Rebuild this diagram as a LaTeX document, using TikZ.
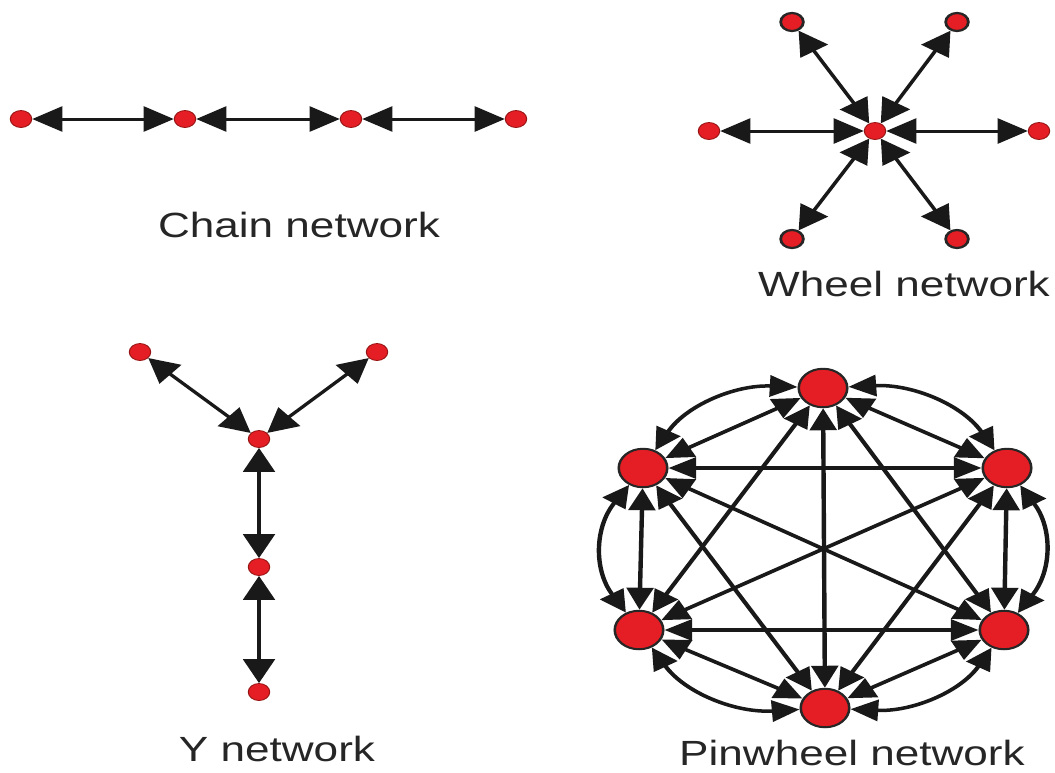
\documentclass[tikz,border=0pt]{standalone}
\usepackage{fontspec}
\setmainfont{Liberation Sans}
\usetikzlibrary{arrows.meta,shapes.geometric}
\definecolor{nodered}{RGB}{228,30,36}
\definecolor{rimred}{RGB}{150,20,20}
\begin{document}
\begin{tikzpicture}[x=1pt,y=-1pt,
  dot/.style={circle,fill=nodered,draw=rimred,line width=0.8pt,inner sep=0pt,minimum size=17pt},
  rimdot/.style={dot,draw=black!85,line width=2.2pt,minimum size=18pt},
  bigdot/.style={circle,fill=nodered,draw=black!85,line width=2pt,inner sep=0pt,minimum size=38.5pt},
  link/.style={line width=3pt,draw=black!90,{Triangle[length=24pt,width=25pt]}-{Triangle[length=24pt,width=25pt]}},
  plink/.style={line width=3.5pt,draw=black!90,{Triangle[length=22pt,width=21pt]}-{Triangle[length=22pt,width=21pt]}},
  lbl/.style={font=\fontsize{35}{40}\selectfont,anchor=base,inner sep=0pt,text=black!85}]
\useasboundingbox (0,0) rectangle (1055,772);
\begin{scope}[transform canvas={xscale=1.26}, x=0.79365pt]

% ---------- Chain network ----------
\node[dot] (c1) at (21,119) {};
\node[dot] (c2) at (185,119) {};
\node[dot] (c3) at (351,119) {};
\node[dot] (c4) at (516,119) {};
\draw[link] (c1) -- (c2);
\draw[link] (c2) -- (c3);
\draw[link] (c3) -- (c4);
\node[lbl] (chainlbl) at (299,237) {Chain network};

% ---------- Wheel network ----------
\node[dot] (wc) at (875,131) {};
\node[dot] (wl) at (709,131) {};
\node[dot] (wr) at (1039,131) {};
\node[rimdot] (wtl) at (792,22) {};
\node[rimdot] (wtr) at (957,22) {};
\node[rimdot] (wbl) at (792,239) {};
\node[rimdot] (wbr) at (957,239) {};
\foreach \o in {wl,wr,wtl,wtr,wbl,wbr} \draw[link] (wc) -- (\o);
\node[lbl] (wheellbl) at (904,296) {Wheel network};

% ---------- Y network ----------
\node[dot] (ytl) at (140,352) {};
\node[dot] (ytr) at (377,352) {};
\node[dot] (yc) at (259,439) {};
\node[dot] (ym) at (259,567) {};
\node[dot] (yb) at (259,692) {};
\draw[link] (ytl) -- (yc);
\draw[link] (ytr) -- (yc);
\draw[link] (yc) -- (ym);
\draw[link] (ym) -- (yb);
\node[lbl] (ylbl) at (277,761) {Y network};

% ---------- Pinwheel network ----------
\node[bigdot] (pT) at (823,388) {};
\node[bigdot] (pUL) at (643,468) {};
\node[bigdot] (pUR) at (1007,468) {};
\node[bigdot] (pLL) at (639,630) {};
\node[bigdot] (pLR) at (1004,630) {};
\node[bigdot] (pB) at (825,708) {};
\foreach \a/\b in {pT/pUL,pT/pUR,pT/pLL,pT/pLR,pT/pB,pUL/pUR,pUL/pLL,pUL/pLR,pUL/pB,pUR/pLL,pUR/pLR,pUR/pB,pLL/pLR,pLL/pB,pLR/pB}
  \draw[plink] (\a) -- (\b);
\draw[plink] (pT) to[bend left=32] (pUR);
\draw[plink] (pUR) to[bend left=32] (pLR);
\draw[plink] (pLR) to[bend left=32] (pB);
\draw[plink] (pB) to[bend left=32] (pLL);
\draw[plink] (pLL) to[bend left=32] (pUL);
\draw[plink] (pUL) to[bend left=32] (pT);
\node[lbl] (pinlbl) at (852,765) {Pinwheel network};
\end{scope}
\end{tikzpicture}
\end{document}
